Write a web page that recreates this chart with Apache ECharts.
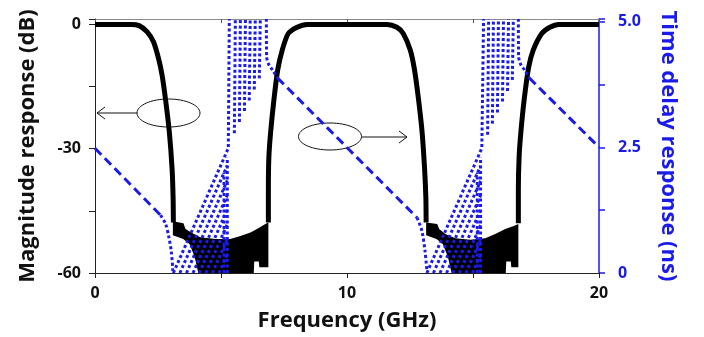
<!DOCTYPE html>
<html>
<head>
<meta charset="utf-8">
<script src="https://cdn.jsdelivr.net/npm/echarts@6.0.0/dist/echarts.min.js"></script>
<style>
  html, body { margin: 0; padding: 0; background: #fff; }
  #chart { width: 704px; height: 337px; }
</style>
</head>
<body>
<div id="chart"></div>
<script>
// x ticks / y ticks
const freqTicks = [0, 10, 20];
const magTicks = [-60, -30, 0];
const delayTicks = [0, 2.5, 5.0];

// magnitude response (dB), passband edges
const mag1 = [[0, 0], [1.45, 0], [1.75, -0.3], [2.07, -1.8], [2.32, -4.2], [2.52, -8.2], [2.66, -12.2],
  [2.8, -18.2], [2.95, -26], [3.06, -35], [3.1, -42], [3.11, -47.8]];
const mag2 = [[6.88, -47.8], [6.88, -40], [6.9, -32], [6.97, -26], [7.1, -18.2], [7.25, -11], [7.43, -6.2],
  [7.67, -2.2], [8.02, -0.7], [8.41, 0], [11.59, 0], [11.98, -0.7], [12.23, -2.2], [12.51, -6.2],
  [12.68, -11], [12.84, -18.2], [12.98, -26], [13.08, -35], [13.13, -42], [13.14, -47.8]];
const mag3 = [[16.8, -48], [16.8, -40], [16.83, -32], [16.9, -26], [17.03, -18.2], [17.21, -10.3],
  [17.39, -6.2], [17.73, -2.2], [18.05, -0.7], [18.4, 0], [20, 0]];

// stopband ripple envelope (dB)
const band1TopX = [3.09, 3.51, 3.59, 3.87, 4.18, 4.78, 5.37, 5.77, 6.17, 6.48, 6.76, 6.88];
const band1Top = [-47.5, -48, -49.4, -50.4, -51.4, -51.8, -51.8, -51.1, -50.2, -49.2, -48.2, -47.8];
const band1BotX = [3.09, 3.5, 3.75, 3.95, 4.1, 6.3, 6.32, 6.5, 6.52, 6.88];
const band1Bot = [-50.9, -51.8, -53, -56, -60, -60, -57.2, -57.2, -58.6, -58.6];
const band2TopX = [13.14, 13.58, 13.66, 13.9, 14.3, 14.89, 15.49, 15.88, 16.28, 16.59, 16.8];
const band2Top = [-47.8, -48.2, -49.4, -50.6, -51.6, -52, -51.6, -50.6, -49.4, -48.7, -48.2];
const band2BotX = [13.14, 13.55, 13.8, 14.0, 14.15, 16.3, 16.32, 16.5, 16.52, 16.8];
const band2Bot = [-50.9, -51.8, -53, -56, -60, -60, -57.2, -57.2, -58.6, -58.6];

// time delay (ns), main branches
const delayA = [[0, 2.48], [2.6, 1.15]];
const delayATail = [[2.6, 1.15], [2.8, 0.98], [2.92, 0.74], [3.03, 0.42], [3.09, 0.04]];
const delayBHead = [[6.8, 5.05], [6.81, 4.3], [6.9, 4.14], [7.04, 4.04], [7.24, 3.88]];
const delayB = [[7.24, 3.88], [12.78, 1.1]];
const delayBTail = [[12.78, 1.1], [12.97, 0.84], [13.1, 0.42], [13.17, 0.04]];
const delayCHead = [[16.8, 5.05], [16.81, 4.3], [16.9, 4.14], [17.04, 4.04], [17.23, 3.88]];
const delayC = [[17.23, 3.88], [20, 2.5]];

// time delay (ns), wrapped branches in the stopbands
const fan1 = [
  [[3.11, 0], [5.29, 2.48], [5.33, 5.05]],
  [[5.53, 2.78], [5.57, 5.05]],
  [[5.73, 3.0], [5.77, 5.05]],
  [[5.93, 3.22], [5.97, 5.05]],
  [[6.12, 3.43], [6.16, 5.05]],
  [[6.32, 3.65], [6.36, 5.05]],
  [[6.52, 3.87], [6.56, 5.05]],
  [[3.37, 0], [5.25, 2.14]],
  [[3.63, 0], [5.25, 1.84]],
  [[3.89, 0], [5.25, 1.55]],
  [[4.14, 0], [5.25, 1.26]],
  [[4.40, 0], [5.25, 0.97]],
  [[4.66, 0], [5.25, 0.67]],
  [[4.92, 0], [5.25, 0.37]],
  [[5.12, 0], [5.12, 2.0]],
  [[5.25, 0], [5.25, 2.3]]
];
const fan2 = [
  [[13.17, 0], [15.35, 2.48], [15.42, 5.05]],
  [[15.58, 2.75], [15.62, 5.05]],
  [[15.77, 2.97], [15.81, 5.05]],
  [[15.97, 3.19], [16.01, 5.05]],
  [[16.17, 3.41], [16.21, 5.05]],
  [[16.37, 3.62], [16.41, 5.05]],
  [[16.56, 3.84], [16.60, 5.05]],
  [[13.43, 0], [15.30, 2.13]],
  [[13.69, 0], [15.30, 1.83]],
  [[13.95, 0], [15.30, 1.54]],
  [[14.20, 0], [15.30, 1.25]],
  [[14.46, 0], [15.30, 0.95]],
  [[14.72, 0], [15.30, 0.66]],
  [[14.98, 0], [15.30, 0.36]],
  [[15.17, 0], [15.17, 2.0]],
  [[15.30, 0], [15.30, 2.3]]
];

const BLUE = '#1a1aeb';
const FONT = 'Open Sans';

function magLine(data) {
  return {
    type: 'line', xAxisIndex: 0, yAxisIndex: 0, data: data,
    symbol: 'none', smooth: 0.25, z: 3,
    lineStyle: { color: '#000', width: 5, join: 'round' }
  };
}
function delayLine(data, dash, smooth) {
  return {
    type: 'line', xAxisIndex: 0, yAxisIndex: 1, data: data,
    symbol: 'none', smooth: smooth || false, z: 5,
    lineStyle: { color: BLUE, width: 3, type: dash, cap: 'butt' }
  };
}

const bands = [
  { topX: band1TopX, top: band1Top, botX: band1BotX, bot: band1Bot },
  { topX: band2TopX, top: band2Top, botX: band2BotX, bot: band2Bot }
];

const series = [
  {
    type: 'custom', xAxisIndex: 0, yAxisIndex: 0, z: 2, clip: true,
    data: [[5, -55], [15, -55]],
    renderItem: function (params, api) {
      const b = bands[params.dataIndex];
      const pts = [];
      b.topX.forEach(function (x, i) { pts.push(api.coord([x, b.top[i]])); });
      for (let i = b.botX.length - 1; i >= 0; i--) pts.push(api.coord([b.botX[i], b.bot[i]]));
      return { type: 'polygon', shape: { points: pts }, style: { fill: '#000' } };
    }
  },
  magLine(mag1), magLine(mag2), magLine(mag3),
  delayLine(delayA, [9, 5]),
  delayLine(delayATail, [3, 2.5], 0.3),
  delayLine(delayBHead, [3, 2.5], 0.3),
  delayLine(delayB, [9, 5]),
  delayLine(delayBTail, [3, 2.5], 0.3),
  delayLine(delayCHead, [3, 2.5], 0.3),
  delayLine(delayC, [9, 5])
];
fan1.concat(fan2).forEach(function (d) { series.push(delayLine(d, [3, 2.5])); });

const chart = echarts.init(document.getElementById('chart'));
chart.setOption({
  animation: false,
  textStyle: { fontFamily: FONT },
  grid: { left: 95, right: 105, top: 19, bottom: 63 },
  xAxis: [
    {
      type: 'value', min: 0, max: 20, interval: 10, position: 'bottom',
      axisLine: { show: true, onZero: false, lineStyle: { color: '#222', width: 1 } },
      axisTick: { show: true, length: 5, lineStyle: { color: '#222' } },
      minorTick: { show: true, splitNumber: 2, length: 5, lineStyle: { color: '#222' } },
      splitLine: { show: false },
      axisLabel: {
        margin: 12, fontSize: 16, fontWeight: 'bold', color: '#111',
        formatter: function (v) { return freqTicks.indexOf(v) >= 0 ? String(v) : ''; }
      },
      name: 'Frequency (GHz)', nameLocation: 'middle', nameGap: 37,
      nameTextStyle: { fontSize: 22, fontWeight: 'bold', color: '#111' }
    },
    {
      type: 'value', min: 0, max: 20, interval: 5, position: 'top',
      axisLine: { show: true, onZero: false, lineStyle: { color: '#8a8a8a', width: 1 } },
      axisTick: { show: true, inside: true, length: 4, lineStyle: { color: '#555' } },
      axisLabel: { show: false }, splitLine: { show: false }
    }
  ],
  yAxis: [
    {
      type: 'value', min: -60, max: 1.3, interval: 15, position: 'left',
      axisLine: { show: true, onZero: false, lineStyle: { color: '#222', width: 1 } },
      axisTick: { show: true, length: 6, lineStyle: { color: '#222' } },
      splitLine: { show: false },
      axisLabel: {
        margin: 14, fontSize: 16, fontWeight: 'bold', color: '#111',
        formatter: function (v) { return magTicks.indexOf(v) >= 0 ? String(v) : ''; }
      },
      name: 'Magnitude response (dB)', nameLocation: 'middle', nameGap: 56, nameRotate: 90,
      nameTextStyle: { fontSize: 22, fontWeight: 'bold', color: '#111' }
    },
    {
      type: 'value', min: 0, max: 5.05, interval: 1.25, position: 'right',
      axisLine: { show: true, onZero: false, lineStyle: { color: BLUE, width: 1.5 } },
      axisTick: { show: true, length: 6, lineStyle: { color: BLUE, width: 1.5 } },
      splitLine: { show: false },
      axisLabel: {
        margin: 19, fontSize: 16, fontWeight: 'bold', color: BLUE,
        formatter: function (v) {
          if (delayTicks.indexOf(v) < 0) return '';
          return v === 0 ? '0' : v.toFixed(1);
        }
      },
      name: 'Time delay response (ns)', nameLocation: 'middle', nameGap: 58, nameRotate: -90,
      nameTextStyle: { fontSize: 22, fontWeight: 'bold', color: BLUE }
    }
  ],
  graphic: [
    { type: 'ellipse', shape: { cx: 168.5, cy: 113, rx: 31.5, ry: 14 }, style: { fill: 'none', stroke: '#111', lineWidth: 1 } },
    { type: 'line', shape: { x1: 137, y1: 113, x2: 97, y2: 113 }, style: { stroke: '#111', lineWidth: 1 } },
    { type: 'polyline', shape: { points: [[105, 107], [97, 113], [105, 119]] }, style: { stroke: '#111', lineWidth: 1, fill: 'none' } },
    { type: 'ellipse', shape: { cx: 330, cy: 136.5, rx: 31.5, ry: 13.5 }, style: { fill: 'none', stroke: '#111', lineWidth: 1 } },
    { type: 'line', shape: { x1: 362, y1: 137, x2: 407, y2: 137 }, style: { stroke: '#111', lineWidth: 1 } },
    { type: 'polyline', shape: { points: [[399, 131], [407, 137], [399, 143]] }, style: { stroke: '#111', lineWidth: 1, fill: 'none' } }
  ],
  series: series
});
</script>
</body>
</html>
